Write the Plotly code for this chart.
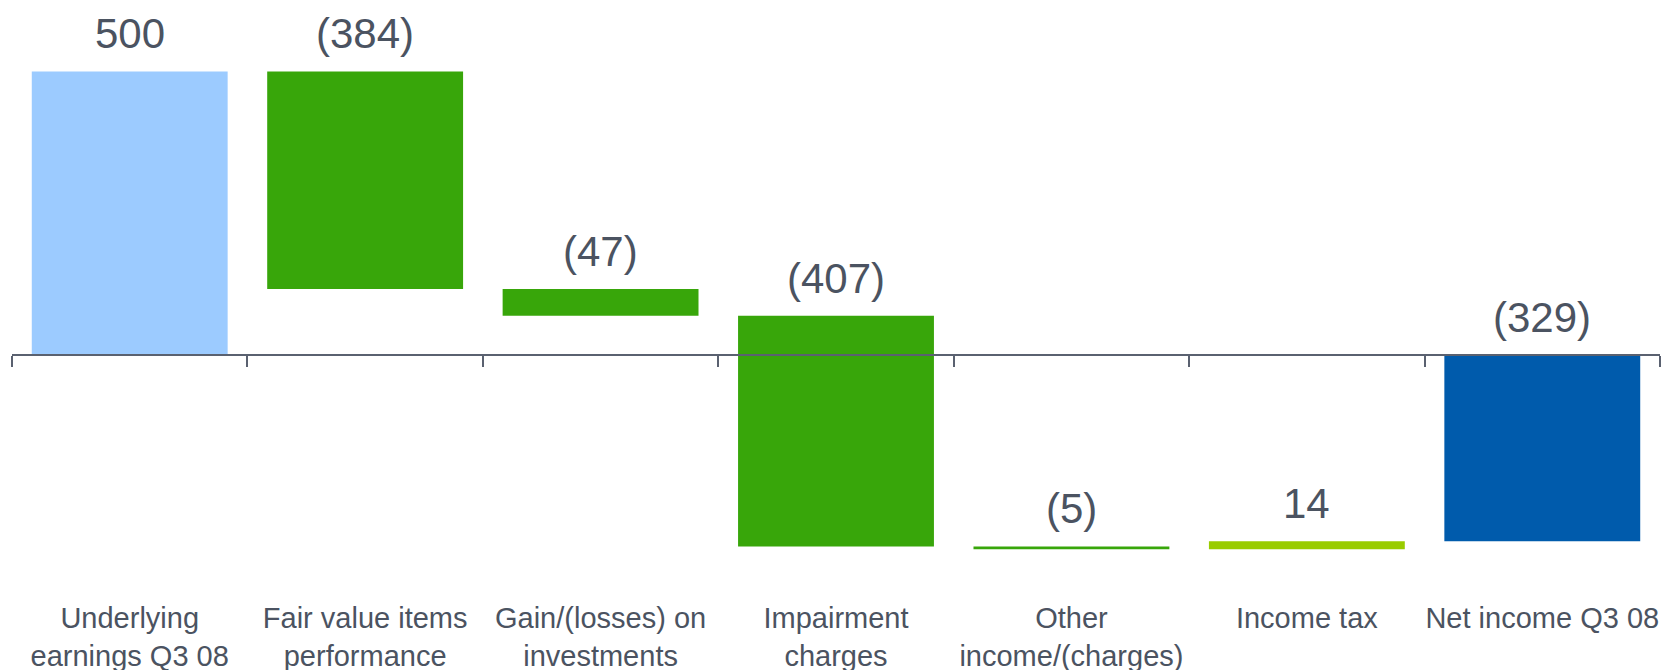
import plotly.graph_objects as go

categories = ["Underlying<br>earnings Q3 08", "Fair value items<br>performance",
              "Gain/(losses) on<br>investments", "Impairment<br>charges",
              "Other<br>income/(charges)", "Income tax", "Net income Q3 08"]
values = [500, -384, -47, -407, -5, 14, -329]
measures = ["absolute", "relative", "relative", "relative", "relative", "relative", "total"]
value_labels = ["500", "(384)", "(47)", "(407)", "(5)", "14", "(329)"]

colors = ["#9ccbff", "#38a60a", "#38a60a", "#38a60a", "#38a60a", "#99cc00", "#005bac"]

# compute waterfall bases
bases, heights = [], []
running = 0
for v, m in zip(values, measures):
    if m == "absolute":
        bases.append(0); heights.append(v); running = v
    elif m == "total":
        bases.append(0); heights.append(running)
    else:
        bases.append(running); heights.append(v); running += v
tops = [max(b, b + h) for b, h in zip(bases, heights)]

text_color = "#4b5361"
y_range = [-556, 626]

fig = go.Figure()
fig.add_trace(go.Bar(
    x=categories, y=heights, base=bases,
    marker=dict(color=colors, line=dict(width=0)),
    hoverinfo="skip", showlegend=False,
))

for c, t, lab in zip(categories, tops, value_labels):
    fig.add_annotation(x=c, y=t, text=lab, showarrow=False, yanchor="bottom",
                       yshift=12, font=dict(size=42, color=text_color,
                                            family="Liberation Sans, Arial, sans-serif"))

axis_pos = (0 - y_range[0]) / (y_range[1] - y_range[0])

fig.update_layout(
    width=1672, height=670,
    margin=dict(l=12, r=12, t=0, b=0, autoexpand=False),
    paper_bgcolor="white", plot_bgcolor="white",
    bargap=0.168,
    font=dict(family="Liberation Sans, Arial, sans-serif", color=text_color),
    xaxis=dict(
        type="category", anchor="free", position=axis_pos,
        showline=True, linecolor="#5a6170", linewidth=1.5,
        ticks="outside", ticklen=11, tickwidth=1.5, tickcolor="#5a6170",
        tickson="boundaries", showgrid=False, zeroline=False,
        tickfont=dict(size=29, color=text_color),
        tickangle=0, automargin=False,
        ticklabelstandoff=238,
        range=[-0.5, len(categories) - 0.5],
    ),
    yaxis=dict(range=y_range, visible=False, showgrid=False, zeroline=False,
               automargin=False),
)

fig.write_html("out.html", config={"displayModeBar": False},
               post_script="document.body.style.margin='0';document.body.style.overflow='hidden';")
